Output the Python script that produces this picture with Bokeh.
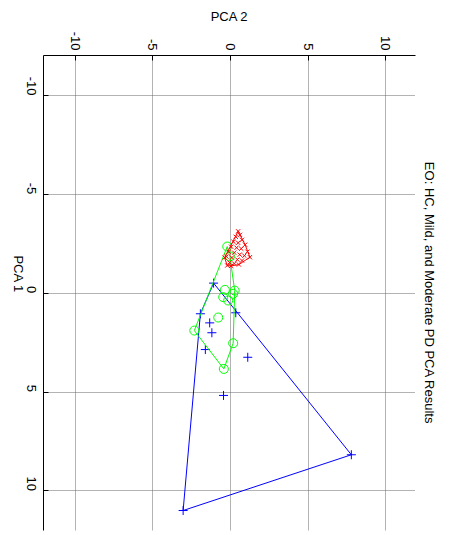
import math
from bokeh.plotting import figure
from bokeh.models import Range1d, FixedTicker, Title
from bokeh.embed import file_html
from bokeh.resources import INLINE

# ---- data (PCA 2 on horizontal, PCA 1 on vertical, rotated MATLAB view) ----
hc_pca2 = [-1.08, -1.93, 0.35, -1.33, -1.19, -1.61, 1.12, -0.44, 7.79, -3.04]
hc_pca1 = [-0.51, 1.04, 0.99, 1.50, 2.00, 2.85, 3.24, 5.17, 8.17, 10.99]

mild_pca2 = [-0.20, -0.03, -0.35, 0.28, 0.18, -0.46, -0.14, -0.78, -2.32, 0.18, -0.42]
mild_pca1 = [-2.36, -1.86, -0.17, -0.13, 0.03, 0.20, 0.37, 1.23, 1.89, 2.53, 3.83]

mod_pca2 = [0.50, 0.62, 0.35, 0.75, 0.20, 0.50, 0.95, 0.05, 0.40, 0.70, 1.10, -0.10, 0.25,
            0.60, 0.90, 1.26, -0.25, 0.10, 0.45, 0.75, -0.37, -0.05, 0.25, 0.55, -0.20, 0.05]
mod_pca1 = [-3.13, -2.95, -2.85, -2.70, -2.60, -2.55, -2.45, -2.35, -2.30, -2.25, -2.10, -2.10, -2.05,
            -1.95, -1.90, -1.82, -1.85, -1.80, -1.70, -1.65, -1.80, -1.55, -1.50, -1.45, -1.40, -1.38]

ticks = [-10, -5, 0, 5, 10]
tick_labels = ["-10", "-5", "0", "5", "10"]
title_text = "EO: HC, Mild, and Moderate PD PCA Results"


def hull(xs, ys):
    pts = sorted(set(zip(xs, ys)))
    if len(pts) < 3:
        return pts

    def cross(o, a, b):
        return (a[0] - o[0]) * (b[1] - o[1]) - (a[1] - o[1]) * (b[0] - o[0])

    lower, upper = [], []
    for pt in pts:
        while len(lower) >= 2 and cross(lower[-2], lower[-1], pt) <= 0:
            lower.pop()
        lower.append(pt)
    for pt in reversed(pts):
        while len(upper) >= 2 and cross(upper[-2], upper[-1], pt) <= 0:
            upper.pop()
        upper.append(pt)
    h = lower[:-1] + upper[:-1]
    return h + [h[0]]


FONT = "Liberation Sans"

p = figure(width=449, height=535, output_backend="svg", toolbar_location=None,
           x_range=Range1d(-12.03, 11.92), y_range=Range1d(12.0, -12.02),
           x_axis_location="above", min_border_left=41, min_border_right=34,
           min_border_top=55, min_border_bottom=5, title=None)
p.outline_line_color = None
p.background_fill_color = "white"
p.border_fill_color = "white"

for ax in (p.xaxis[0], p.yaxis[0]):
    ax.ticker = FixedTicker(ticks=ticks)
    ax.major_label_overrides = {t: s for t, s in zip(ticks, tick_labels)}
    ax.major_tick_in = 5
    ax.major_tick_out = 0
    ax.minor_tick_line_color = None
    ax.axis_line_color = "black"
    ax.axis_line_width = 1
    ax.major_tick_line_color = "black"
    ax.major_label_text_font = FONT
    ax.major_label_text_font_size = "13px"
    ax.major_label_text_color = "black"
    ax.major_label_orientation = -math.pi / 2
    ax.axis_label_text_font = FONT
    ax.axis_label_text_font_size = "13px"
    ax.axis_label_text_font_style = "normal"
    ax.axis_label_text_color = "black"

p.xaxis[0].major_label_standoff = 5
p.xaxis[0].axis_label = "PCA 2"
p.xaxis[0].axis_label_standoff = 5
p.yaxis[0].major_label_standoff = 12
p.yaxis[0].axis_label = "PCA 1"
p.yaxis[0].axis_label_standoff = 1
p.yaxis[0].axis_label_orientation = -math.pi / 2

for g in (p.xgrid[0], p.ygrid[0]):
    g.ticker = FixedTicker(ticks=ticks)
    g.grid_line_color = "#666666"
    g.grid_line_dash = "1 1"
    g.grid_line_width = 1

# HC (blue)
hx = hull(hc_pca2, hc_pca1)
p.line([q[0] for q in hx], [q[1] for q in hx], line_color="#0000ff", line_width=1)
p.scatter(hc_pca2, hc_pca1, marker="cross", size=9, line_color="#0000ff", line_width=1)

# Mild (green)
mx = hull(mild_pca2, mild_pca1)
p.line([q[0] for q in mx], [q[1] for q in mx], line_color="#00ff00", line_width=1)
p.scatter(mild_pca2, mild_pca1, marker="circle", size=9, line_color="#00ff00",
          fill_color=None, line_width=1)

# Moderate (red)
rx = hull(mod_pca2, mod_pca1)
p.line([q[0] for q in rx], [q[1] for q in rx], line_color="#ff0000", line_width=1)
p.scatter(mod_pca2, mod_pca1, marker="x", size=6, line_color="#ff0000", line_width=1)

# title on the right, reading top to bottom
p.add_layout(Title(text=title_text, text_font=FONT, text_font_size="13px",
                   text_font_style="normal", text_color="black", align="center",
                   standoff=12), "right")

open("out.html", "w").write(file_html(p, INLINE))
